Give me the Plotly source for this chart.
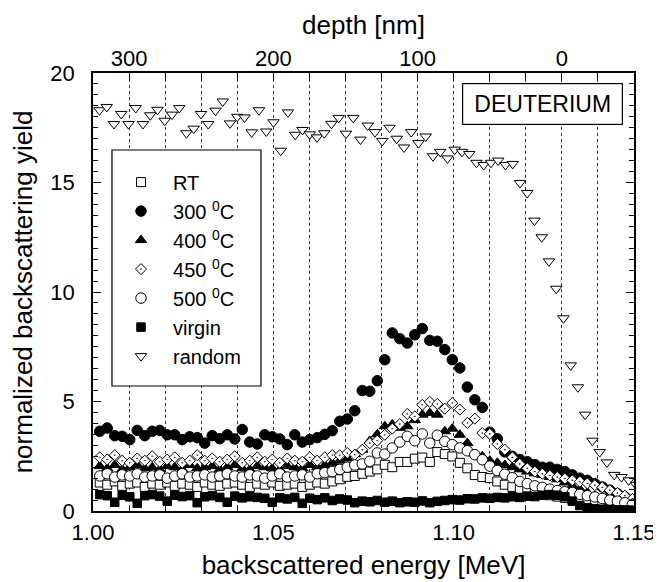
import plotly.graph_objects as go

# ---------------- data ----------------
# channel energies of the annealed / virgin spectra (MeV): first channel and channel width
E0, dE = 1.00186, 0.00208
# channel energies of the random spectrum (MeV)
E0_random, dE_random = 1.0018, 0.00201

rt = [1.30, 1.20, 1.35, 1.15, 1.25, 1.30, 1.10, 1.25, 1.20, 1.30, 1.15, 1.25, 1.20, 1.10, 1.30, 1.20,
      1.15, 1.25, 1.30, 1.20, 1.10, 1.25, 1.20, 1.30, 1.15, 1.20, 1.25, 1.10, 1.20, 1.30, 1.25, 1.35,
      1.45, 1.56, 1.60, 1.70, 1.80, 1.90, 2.11, 2.00, 2.24, 2.24, 2.39, 2.44, 2.24, 2.69, 2.60, 2.49,
      2.20, 1.95, 1.64, 1.55, 1.50, 1.35, 1.20, 1.10, 1.00, 0.92, 0.85, 0.78, 0.72, 0.66, 0.60, 0.55,
      0.50, 0.45, 0.40, 0.36, 0.32, 0.28, 0.25, 0.22]

t300 = [3.64, 3.79, 3.44, 3.41, 3.26, 3.68, 3.44, 3.64, 3.68, 3.48, 3.48, 3.26, 3.39, 3.35, 3.10, 3.44,
        3.30, 3.48, 3.29, 3.72, 3.15, 3.06, 3.48, 3.39, 3.29, 3.03, 3.48, 3.15, 3.26, 3.35, 3.50, 3.67,
        4.10, 4.20, 4.58, 5.50, 5.47, 5.95, 6.91, 8.13, 7.87, 7.67, 8.05, 8.33, 7.79, 7.75, 7.37, 6.91,
        6.53, 5.66, 5.08, 4.73, 3.60, 3.30, 2.70, 2.50, 2.35, 2.25, 2.12, 2.00, 2.00, 1.90, 1.80, 1.65,
        1.50, 1.40, 1.25, 1.10, 0.95, 0.80, 0.65, 0.50]

t400 = [2.05, 1.95, 2.10, 1.90, 2.00, 2.10, 1.95, 2.00, 1.90, 2.05, 2.00, 1.90, 2.10, 1.95, 2.00, 2.05,
        1.90, 2.00, 2.10, 1.95, 1.90, 2.05, 2.00, 1.95, 1.90, 2.05, 2.00, 1.95, 2.10, 2.00, 2.10, 2.20,
        2.30, 2.40, 2.60, 2.80, 3.20, 3.50, 3.87, 3.95, 3.80, 3.87, 4.15, 4.40, 4.47, 4.40, 3.64, 3.76,
        3.48, 3.10, 2.60, 2.50, 2.30, 2.20, 2.10, 2.00, 1.90, 1.80, 1.72, 1.65, 1.55, 1.45, 1.30, 1.15,
        1.00, 0.85, 0.70, 0.55, 0.40, 0.30, 0.25, 0.20]

t450 = [2.45, 2.35, 2.55, 2.30, 2.20, 2.40, 2.30, 2.50, 2.25, 2.35, 2.45, 2.20, 2.30, 2.55, 2.30, 2.40,
        2.25, 2.35, 2.50, 2.20, 2.30, 2.45, 2.25, 2.35, 2.20, 2.40, 2.30, 2.25, 2.45, 2.30, 2.45, 2.55,
        2.55, 2.65, 2.57, 2.80, 3.10, 3.21, 3.48, 3.76, 3.97, 4.43, 4.32, 4.85, 4.98, 4.89, 4.67, 4.93,
        4.63, 4.02, 4.22, 3.56, 3.52, 3.06, 2.80, 2.45, 2.15, 1.95, 1.80, 1.70, 1.62, 1.55, 1.48, 1.40,
        1.34, 1.26, 1.18, 1.08, 0.95, 0.82, 0.70, 0.55]

t500 = [1.60, 1.70, 1.55, 1.65, 1.60, 1.70, 1.55, 1.60, 1.65, 1.50, 1.60, 1.70, 1.55, 1.60, 1.65, 1.55,
        1.60, 1.70, 1.60, 1.55, 1.65, 1.60, 1.50, 1.60, 1.70, 1.55, 1.60, 1.65, 1.55, 1.70, 1.75, 1.80,
        1.90, 2.00, 2.10, 2.15, 2.27, 2.65, 2.60, 2.88, 3.15, 3.41, 3.21, 3.52, 3.10, 3.46, 3.18, 3.03,
        2.88, 2.75, 2.57, 2.34, 2.05, 1.85, 1.68, 1.52, 1.35, 1.25, 1.15, 1.08, 1.00, 0.93, 0.88, 0.84,
        0.76, 0.70, 0.64, 0.57, 0.50, 0.45, 0.38, 0.30]

virgin = [0.75, 0.70, 0.40, 0.72, 0.65, 0.35, 0.70, 0.75, 0.68, 0.45, 0.72, 0.66, 0.70, 0.38, 0.65, 0.70,
          0.62, 0.40, 0.68, 0.60, 0.65, 0.62, 0.58, 0.40, 0.60, 0.55, 0.62, 0.35, 0.58, 0.52, 0.60, 0.48,
          0.55, 0.50, 0.38, 0.45, 0.42, 0.48, 0.40, 0.45, 0.38, 0.42, 0.40, 0.46, 0.38, 0.44, 0.48, 0.52,
          0.50, 0.56, 0.55, 0.60, 0.58, 0.62, 0.60, 0.65, 0.62, 0.68, 0.66, 0.72, 0.75, 0.72, 0.65, 0.45,
          0.25, 0.15, 0.10, 0.08, 0.06, 0.05, 0.05, 0.04]

random_yield = [18.30, 18.45, 17.67, 18.13, 17.67, 18.40, 17.67, 18.07, 18.32, 17.82, 18.10, 18.40,
                17.25, 17.46, 18.13, 17.67, 18.28, 18.70, 17.70, 18.00, 17.97, 17.29, 18.30, 17.33,
                17.75, 16.45, 18.20, 17.18, 17.40, 17.20, 17.06, 17.25, 17.68, 17.95, 17.23, 17.95,
                16.96, 17.60, 17.30, 16.90, 17.50, 17.00, 16.60, 17.30, 16.80, 17.10, 16.20, 16.40,
                16.10, 16.50, 16.40, 16.30, 15.90, 15.80, 15.90, 16.00, 15.80, 15.85, 14.98, 14.52,
                13.26, 12.50, 11.40, 10.15, 8.80, 6.65, 5.65, 4.40, 3.21, 2.69, 2.22, 1.65, 1.55,
                1.40, 1.20]

series_names = ["RT", "300 <sup>0</sup>C", "400 <sup>0</sup>C", "450 <sup>0</sup>C",
                "500 <sup>0</sup>C", "virgin", "random"]

energy_range = [1.00, 1.15]
energy_ticks = [1.00, 1.05, 1.10, 1.15]
yield_range = [0, 20]
depth_ticks = [300, 200, 100, 0]
depth_zero_energy = 1.13      # MeV at depth 0 nm
nm_per_MeV = 2500.0

# -------------------------------------------------------------------------
energy = [round(E0 + dE * i, 5) for i in range(len(t300))]
energy_random = [round(E0_random + dE_random * j, 5) for j in range(len(random_yield))]

FONT = "Liberation Sans, Arial, Helvetica, sans-serif"

styles = [
    dict(symbol="square", color="white", size=9),
    dict(symbol="circle", color="black", size=10.5),
    dict(symbol="triangle-up", color="black", size=10),
    dict(symbol="diamond-dot", color="white", size=8.5),
    dict(symbol="circle", color="white", size=10.5),
    dict(symbol="square", color="black", size=8.5),
    dict(symbol="triangle-down", color="white", size=10),
]
values = [rt, t300, t400, t450, t500, virgin, random_yield]
xs = [energy] * 6 + [energy_random]

fig = go.Figure()
for name, xv, yv, st in zip(series_names, xs, values, styles):
    fig.add_trace(go.Scatter(
        x=xv, y=yv, mode="markers", name=name,
        marker=dict(symbol=st["symbol"], color=st["color"], size=st["size"],
                    line=dict(color="black", width=1)),
    ))

# invisible trace that carries the depth axis (top)
depth_range = [(depth_zero_energy - energy_range[0]) * nm_per_MeV,
               (depth_zero_energy - energy_range[1]) * nm_per_MeV]
fig.add_trace(go.Scatter(x=depth_range, y=[None, None], xaxis="x2", yaxis="y",
                         mode="markers", showlegend=False, hoverinfo="skip"))

grid = dict(gridcolor="#333333", griddash="dot", gridwidth=1)

fig.update_layout(
    width=661, height=582,
    margin=dict(l=85, r=35, t=65, b=79, autoexpand=False),
    paper_bgcolor="white", plot_bgcolor="white",
    font=dict(family=FONT, color="black", size=22),
    showlegend=True,
    legend=dict(x=0.0296, y=0.7954, xanchor="left", yanchor="top",
                bgcolor="rgba(0,0,0,0)", borderwidth=0,
                font=dict(family=FONT, size=20, color="black"),
                itemwidth=54, tracegroupgap=0),
    xaxis=dict(
        range=energy_range, tickvals=energy_ticks,
        ticktext=[f"{v:.2f}" for v in energy_ticks],
        ticks="inside", ticklen=8, tickwidth=1.2, tickcolor="black",
        showline=True, linecolor="black", linewidth=1.6, mirror=True,
        showgrid=True, **grid, zeroline=False,
        minor=dict(dtick=0.01, tick0=1.0, ticks="inside", ticklen=5, tickcolor="black",
                   showgrid=True, **grid),
        tickfont=dict(size=22), ticklabelstandoff=1,
        title=dict(text="backscattered energy [MeV]", font=dict(size=26), standoff=12),
    ),
    xaxis2=dict(
        overlaying="x", side="top", anchor="y", range=depth_range,
        tickvals=depth_ticks, ticks="inside", ticklen=7, tickwidth=1.2, tickcolor="black",
        minor=dict(dtick=25, tick0=0, ticks="inside", ticklen=7, tickcolor="black", showgrid=False),
        showgrid=False, zeroline=False, showline=False,
        tickfont=dict(size=22), ticklabelstandoff=2,
        title=dict(text="depth [nm]", font=dict(size=26), standoff=3),
    ),
    yaxis=dict(
        range=yield_range, dtick=5, ticks="inside", ticklen=8, tickwidth=1.2, tickcolor="black",
        minor=dict(dtick=0.5, ticks="inside", ticklen=5, tickcolor="black"),
        showline=True, linecolor="black", linewidth=1.6, mirror="ticks",
        showgrid=False, zeroline=False,
        tickfont=dict(size=22), ticklabelstandoff=12,
        title=dict(text="normalized backscattering yield", font=dict(size=26), standoff=10),
    ),
    shapes=[dict(type="rect", xref="paper", yref="paper",
                 x0=0.0351, x1=0.3105, y0=0.2854, y1=0.8242,
                 line=dict(color="black", width=1.2), fillcolor="white", layer="above")],
    annotations=[dict(text="DEUTERIUM", xref="paper", yref="paper", x=0.831, y=0.929,
                      xanchor="center", yanchor="middle", showarrow=False,
                      font=dict(family=FONT, size=23, color="black"),
                      bordercolor="black", borderwidth=1.2, borderpad=0,
                      bgcolor="white", width=159, height=40)],
)

fig.write_html("out.html")
